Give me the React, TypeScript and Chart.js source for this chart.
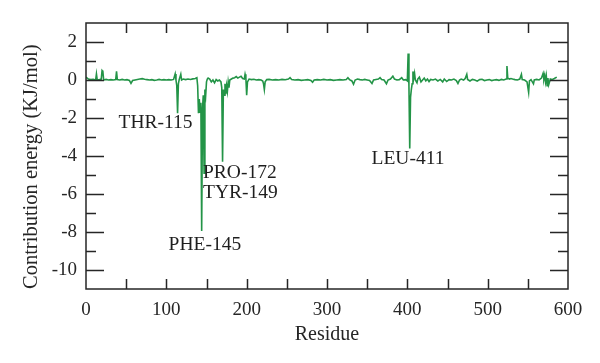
import { useEffect, useRef } from "react";
import { Chart, registerables } from "chart.js";

Chart.register(...registerables);

// Residue numbers (x) and per-residue contribution energy in KJ/mol (y)
const residues = [
  0, 3, 6, 9, 12, 13, 14, 17, 19, 20, 21, 22, 25, 28, 31, 34, 37, 38, 39, 42,
  45, 48, 51, 54, 56, 58, 61, 64, 67, 70, 73, 76, 79, 82, 85, 88, 91, 94, 97, 100,
  103, 106, 109, 111, 112, 113, 114, 115, 116, 118, 119, 121, 124, 127, 130, 133, 136, 138, 139, 140,
  141, 142, 143, 144, 145, 146, 147, 148, 149, 150, 151, 152, 154, 156, 158, 160, 162, 164, 166, 168,
  169, 170, 171, 172, 173, 174, 175, 176, 177, 178, 179, 181, 183, 185, 187, 189, 191, 193, 195, 197,
  198, 199, 200, 201, 203, 206, 209, 212, 215, 218, 220, 221, 222, 223, 225, 228, 232, 236, 240, 244,
  248, 252, 254, 256, 260, 264, 268, 272, 276, 280, 282, 284, 288, 292, 296, 300, 304, 308, 312, 316,
  320, 324, 326, 328, 331, 333, 335, 338, 341, 344, 347, 350, 353, 356, 358, 361, 364, 366, 368, 371,
  374, 376, 379, 382, 384, 387, 390, 393, 395, 398, 400, 401, 402, 403, 404, 405, 406, 407, 408, 409,
  410, 412, 413, 415, 417, 419, 421, 423, 425, 427, 429, 432, 435, 438, 441, 444, 446, 449, 452, 455,
  458, 461, 463, 465, 467, 470, 472, 474, 475, 478, 481, 484, 487, 490, 493, 496, 499, 502, 505, 508,
  511, 514, 517, 520, 523, 524, 525, 527, 529, 531, 534, 537, 540, 542, 543, 546, 549, 551, 552, 554,
  557, 558, 561, 564, 567, 569, 570, 571, 572, 573, 574, 575, 576, 578, 580, 583, 586,
];

const energies = [
  0.15, 0.05, 0.02, 0.03, 0.0, 0.32, 0.0, 0.02, 0.05, 0.5, 0.45, 0.0, 0.03, 0.0, 0.02, 0.0, 0.02, 0.45, 0.02, 0.0,
  0.03, 0.0, 0.02, -0.02, -0.18, -0.03, 0.0, 0.03, 0.05, 0.07, 0.04, 0.02, 0.0, 0.02, -0.02, 0.0, 0.03, 0.0, 0.02, 0.0,
  0.02, 0.0, 0.03, 0.32, 0.0, -0.3, -1.75, -0.2, 0.02, 0.3, 0.0, 0.05, 0.02, 0.05, 0.03, 0.06, 0.08, 0.12, -0.3, -1.75,
  -1.0, -1.7, -1.2, -7.95, -1.5, -0.8, -4.9, -0.5, -0.8, -0.1, 0.05, 0.1, 0.05, -0.1, 0.0, -0.15, 0.02, -0.05, 0.0, -0.1,
  -0.4, -4.3, -0.5, -0.8, -0.2, -0.75, -0.3, -0.6, -0.1, -0.4, 0.0, 0.05, 0.1, 0.12, 0.18, 0.1, 0.15, 0.2, 0.08, 0.05,
  0.3, 0.1, -0.8, -0.1, 0.05, 0.02, 0.04, 0.0, 0.02, 0.0, -0.05, -0.2, -0.5, -0.1, 0.02, 0.03, 0.0, 0.02, 0.0, 0.03,
  0.01, 0.05, 0.12, 0.03, 0.0, 0.02, -0.02, 0.0, 0.02, -0.03, -0.12, 0.0, 0.02, 0.0, 0.03, 0.0, 0.02, -0.02, 0.0, 0.02,
  0.0, 0.03, 0.12, 0.02, -0.05, -0.22, 0.0, 0.05, 0.02, 0.0, 0.03, 0.0, -0.03, -0.18, 0.0, 0.03, 0.05, 0.12, 0.02, 0.0,
  -0.2, 0.0, 0.05, 0.2, 0.05, 0.0, 0.02, 0.12, 0.0, 0.02, -0.05, 1.4, -0.3, -3.6, -0.9, -0.5, -0.2, 0.45, 0.1, 0.35,
  0.0, -0.15, 0.05, 0.15, -0.1, 0.0, 0.1, -0.05, 0.05, -0.08, 0.03, 0.0, 0.05, -0.05, 0.03, -0.1, 0.05, -0.08, 0.02, 0.0,
  0.05, -0.03, -0.18, 0.0, 0.05, 0.0, 0.08, 0.3, 0.03, -0.05, 0.03, 0.0, -0.06, 0.02, 0.04, -0.03, 0.0, 0.02, -0.03, 0.0,
  0.02, -0.02, 0.03, 0.0, 0.05, 0.74, 0.1, 0.05, 0.08, 0.05, 0.02, 0.0, 0.05, 0.3, 0.02, 0.0, -0.1, -0.65, -0.05, 0.02,
  -0.2, 0.0, 0.03, 0.0, 0.1, 0.35, 0.05, 0.25, -0.1, 0.2, -0.3, 0.1, -0.25, 0.05, 0.02, 0.08, 0.15,
];

// Labelled residues and where their labels sit, in data units
const labelTexts = ["THR-115", "PRO-172", "TYR-149", "PHE-145", "LEU-411"];
const labelX = [86.5, 145.6, 145.6, 148, 400.8];
const labelY = [-2.26, -4.9, -5.95, -8.68, -4.16];
const labelAlign: CanvasTextAlign[] = ["center", "left", "left", "center", "center"];

const xMin = 0;
const xMax = 600;
const yMin = -11;
const yMax = 3;
const xTickStep = 100;
const xMinorStep = 50;
const yLabelled = [-10, -8, -6, -4, -2, 0, 2];

const FONT = "'Liberation Serif', 'DejaVu Serif', serif";
const INK = "#262626";

const framePlugin = {
  id: "frameAndTicks",
  afterDraw(chart: any) {
    const { ctx, chartArea } = chart;
    const { left, right, top, bottom } = chartArea;
    const xs = chart.scales.x;
    const ys = chart.scales.y;
    ctx.save();
    ctx.strokeStyle = INK;
    ctx.lineWidth = 1.5;
    ctx.strokeRect(left, top, right - left, bottom - top);
    ctx.beginPath();
    for (let v = xMin + xMinorStep; v < xMax; v += xMinorStep) {
      const px = Math.round(xs.getPixelForValue(v)) + 0.5;
      ctx.moveTo(px, bottom);
      ctx.lineTo(px, bottom - 10);
      ctx.moveTo(px, top);
      ctx.lineTo(px, top + 10);
    }
    for (let v = yMin + 1; v < yMax; v += 1) {
      const py = Math.round(ys.getPixelForValue(v)) + 0.5;
      const len = v % 2 === 0 ? 18 : 10;
      ctx.moveTo(left, py);
      ctx.lineTo(left + len, py);
      ctx.moveTo(right, py);
      ctx.lineTo(right - len, py);
    }
    ctx.stroke();

    ctx.fillStyle = "#1e1e1e";
    ctx.font = `19.5px ${FONT}`;
    ctx.textBaseline = "middle";
    labelTexts.forEach((t, i) => {
      ctx.textAlign = labelAlign[i];
      ctx.fillText(t, xs.getPixelForValue(labelX[i]), ys.getPixelForValue(labelY[i]));
    });
    ctx.restore();
  },
};

export default function App() {
  const ref = useRef<HTMLCanvasElement | null>(null);

  useEffect(() => {
    document.body.style.margin = "0";
    const canvas = ref.current;
    if (!canvas) return;
    const chart = new Chart(canvas, {
      type: "line",
      data: {
        datasets: [
          {
            data: residues.map((r, i) => ({ x: r, y: energies[i] })),
            borderColor: "#239447",
            borderWidth: 1.6,
            pointRadius: 0,
            tension: 0,
            fill: false,
          },
        ],
      },
      options: {
        animation: false,
        responsive: false,
        devicePixelRatio: 1,
        layout: { padding: { left: 0, right: 32, top: 23, bottom: 0 } },
        plugins: { legend: { display: false }, tooltip: { enabled: false } },
        scales: {
          x: {
            type: "linear",
            min: xMin,
            max: xMax,
            grid: { display: false, drawTicks: false },
            border: { display: false },
            ticks: {
              stepSize: xTickStep,
              autoSkip: false,
              maxRotation: 0,
              padding: 10,
              color: INK,
              font: { family: FONT, size: 19 },
            },
            title: {
              display: true,
              text: "Residue",
              color: INK,
              font: { family: FONT, size: 20 },
              padding: { top: 0, bottom: 16 },
            },
            afterFit(scale: any) {
              scale.height = 74;
            },
          },
          y: {
            type: "linear",
            min: yMin,
            max: yMax,
            grid: { display: false, drawTicks: false },
            border: { display: false },
            ticks: {
              stepSize: 1,
              autoSkip: false,
              padding: 9,
              color: INK,
              font: { family: FONT, size: 19 },
              callback: (v: any) => (yLabelled.includes(Number(v)) ? String(v) : ""),
            },
            title: {
              display: true,
              text: "Contribution energy (KJ/mol)",
              align: "start",
              color: INK,
              font: { family: FONT, size: 20.5 },
              padding: { top: 19, bottom: 0 },
            },
            afterFit(scale: any) {
              scale.width = 86;
            },
          },
        },
      },
      plugins: [framePlugin],
    });
    return () => chart.destroy();
  }, []);

  return (
    <div style={{ position: "absolute", left: 0, top: 0, width: 600, height: 363, background: "#fff" }}>
      <canvas ref={ref} width={600} height={363} />
    </div>
  );
}
